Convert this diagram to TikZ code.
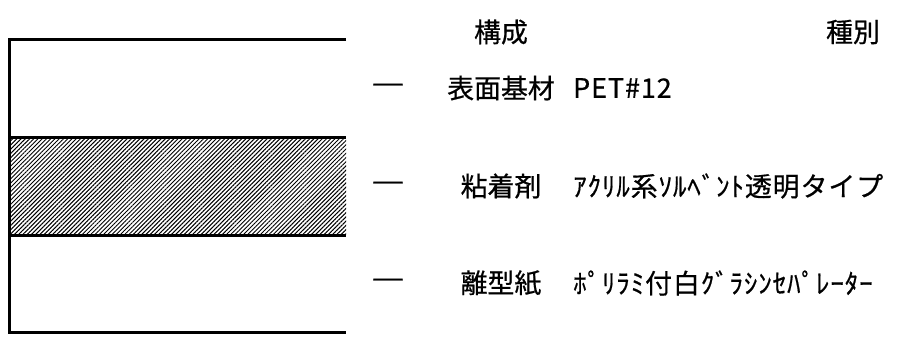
\documentclass[tikz,border=0pt]{standalone}
\usepackage{fontspec}
\setmainfont{Noto Sans CJK JP}[AutoFakeBold=0.6]
\usetikzlibrary{patterns.meta}
\newcommand{\layerlabel}[4]{% #1: node name, #2: y, #3: layer, #4: kind
	\node[xscale=1.35] (dash#1) at (388,#2) {—};
	\node (name#1) at (501,#2) {#3};
	\node[anchor=west] (kind#1) at (573,#2) {\addfontfeatures{LetterSpace=3.5}#4};
}

\begin{document}
\begin{tikzpicture}[x=1bp,y=-1bp,every node/.style={font=\fontsize{27}{30}\selectfont\bfseries,inner sep=0pt}]
	\useasboundingbox (0,0) rectangle (918,338);
	
	% Hatched adhesive layer
	\fill[pattern={Lines[angle=45,distance=3bp,line width=1bp]}] (10,137) rectangle (346,235);
	
	% Layer edges
	\draw[line width=3bp] (346,39) -- (9,39) -- (9,332) -- (346,332);
	\draw[line width=3bp] (9,137) -- (346,137);
	\draw[line width=3bp] (9,235) -- (346,235);
	
	% Column headings
	\node (kousei) at (501,32) {構成};
	\node (shubetsu) at (853,32) {種別};
	
	% Layer labels
	\layerlabel{base}{88}{表面基材}{PET\#12}
	\layerlabel{glue}{186}{粘着剤}{ｱｸﾘﾙ系ｿﾙﾍﾞﾝﾄ透明タイプ}
	\layerlabel{liner}{283}{離型紙}{ﾎﾟﾘﾗﾐ付白ｸﾞﾗｼﾝｾﾊﾟﾚｰﾀｰ}
\end{tikzpicture}
\end{document}
